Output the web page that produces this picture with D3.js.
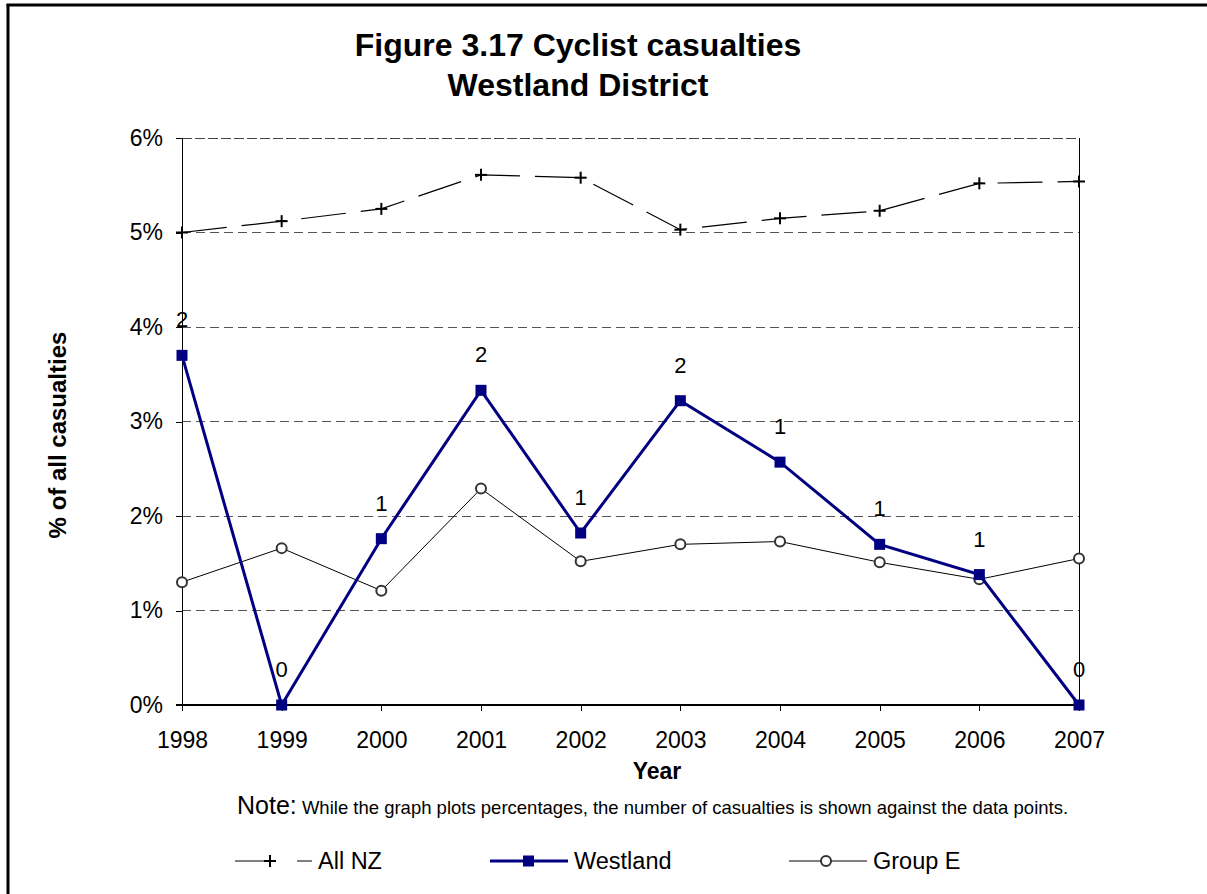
<!DOCTYPE html>
<html><head><meta charset="utf-8">
<script src="https://cdn.jsdelivr.net/npm/d3@7"></script>
<style>body{margin:0;background:#fff;} svg{display:block;font-family:Arial,"Liberation Sans",sans-serif;}</style>
</head><body>
<script>
const years = ["1998","1999","2000","2001","2002","2003","2004","2005","2006","2007"];
const allNZ = [5.00,5.12,5.25,5.61,5.58,5.03,5.15,5.23,5.52,5.54];
const westland = [3.70,0.00,1.76,3.33,1.82,3.22,2.57,1.70,1.38,0.00];
const groupE = [1.30,1.66,1.21,2.29,1.52,1.70,1.73,1.51,1.33,1.55];
const westlandCounts = [2,0,1,2,1,2,1,1,1,0];
const yTicks = [0,1,2,3,4,5,6];
const titleLines = ["Figure 3.17 Cyclist casualties","Westland District"];

(function(){
const W=1207,H=894;
const svg=d3.select("body").append("svg").attr("width",W).attr("height",H);
const pL=182,pR=1079,pT=138,pB=705;
const x=d3.scalePoint().domain(years).range([pL,pR]);
const y=d3.scaleLinear().domain([0,6]).range([pB,pT]);

// outer border
svg.append("line").attr("x1",8).attr("x2",8).attr("y1",4).attr("y2",H).attr("stroke","#000").attr("stroke-width",3);
svg.append("line").attr("x1",6.5).attr("x2",W).attr("y1",5).attr("y2",5).attr("stroke","#000").attr("stroke-width",3);

// title
svg.append("g").selectAll("text").data(titleLines).join("text")
  .attr("x",578).attr("y",(d,i)=>56+i*40).attr("text-anchor","middle")
  .attr("font-size",32).attr("font-weight","bold").text(d=>d);

// gridlines
svg.append("g").attr("shape-rendering","crispEdges").selectAll("line").data(yTicks.filter(d=>d>0)).join("line")
  .attr("x1",pL).attr("x2",pR).attr("y1",d=>y(d)).attr("y2",d=>y(d))
  .attr("stroke",d=>d===6?"#444":"#555").attr("stroke-width",1).attr("stroke-dasharray",d=>d===6?"10,3":"9,5");

// right border of plot
svg.append("line").attr("shape-rendering","crispEdges").attr("x1",pR).attr("x2",pR).attr("y1",pT).attr("y2",pB).attr("stroke","#000").attr("stroke-width",1);

// y axis
const ya=svg.append("g").attr("transform",`translate(${pL},0)`)
  .call(d3.axisLeft(y).tickValues(yTicks).tickFormat(d=>d+"%").tickSize(6).tickPadding(13));
ya.select(".domain").attr("stroke","#000").attr("shape-rendering","crispEdges");
ya.selectAll(".tick line").attr("shape-rendering","crispEdges");
ya.selectAll("text").attr("font-size",23).attr("font-family","Arial,'Liberation Sans',sans-serif").attr("fill","#000");

// x axis
const xa=svg.append("g").attr("transform",`translate(0,${pB})`)
  .call(d3.axisBottom(x).tickSize(6).tickSizeOuter(0).tickPadding(21));
xa.select(".domain").attr("stroke","#000").attr("stroke-width",2).attr("d",`M${pL-6},0H${pR}`);
xa.selectAll(".tick line").attr("shape-rendering","crispEdges");
xa.selectAll("text").attr("font-size",23).attr("font-family","Arial,'Liberation Sans',sans-serif").attr("fill","#000");

// axis titles
svg.append("text").attr("x",657).attr("y",779).attr("text-anchor","middle")
  .attr("font-size",23).attr("font-weight","bold").text("Year");
svg.append("text").attr("transform","translate(66,435) rotate(-90)").attr("text-anchor","middle")
  .attr("font-size",24).attr("font-weight","bold").text("% of all casualties");

const line=d3.line().x((d,i)=>x(years[i])).y(d=>y(d));

// Group E
svg.append("path").datum(groupE).attr("d",line).attr("fill","none").attr("stroke","#000").attr("stroke-width",1);
svg.append("g").selectAll("circle").data(groupE).join("circle")
  .attr("cx",(d,i)=>x(years[i])).attr("cy",d=>y(d)).attr("r",5)
  .attr("fill","#fff").attr("stroke","#333").attr("stroke-width",2);

// All NZ
svg.append("path").datum(allNZ).attr("d",line).attr("fill","none").attr("stroke","#000").attr("stroke-width",1.2).attr("stroke-dasharray","45,15");
const plus=svg.append("g").selectAll("g").data(allNZ).join("g")
  .attr("transform",(d,i)=>`translate(${x(years[i])},${y(d)})`);
plus.append("line").attr("x1",-6).attr("x2",6).attr("stroke","#000").attr("stroke-width",2);
plus.append("line").attr("y1",-6).attr("y2",6).attr("stroke","#000").attr("stroke-width",2);

// Westland
svg.append("path").datum(westland).attr("d",line).attr("fill","none").attr("stroke","#000080").attr("stroke-width",3);
svg.append("g").selectAll("rect").data(westland).join("rect")
  .attr("x",(d,i)=>x(years[i])-5.5).attr("y",d=>y(d)-5.5).attr("width",11).attr("height",11).attr("fill","#000080");
svg.append("g").selectAll("text").data(westland).join("text")
  .attr("x",(d,i)=>x(years[i])).attr("y",d=>y(d)-28).attr("text-anchor","middle")
  .attr("font-size",22).text((d,i)=>westlandCounts[i]);

// note
const note=svg.append("text").attr("x",237).attr("y",814);
note.append("tspan").attr("font-size",25).text("Note:");
note.append("tspan").attr("font-size",18.5).text(" While the graph plots percentages, the number of casualties is shown against the data points.");

// legend
const ly=861;
const lg=svg.append("g");
lg.append("line").attr("x1",235).attr("x2",312).attr("y1",ly).attr("y2",ly).attr("stroke","#000").attr("stroke-width",1.2).attr("stroke-dasharray","32,30");
lg.append("line").attr("x1",264).attr("x2",276).attr("y1",ly).attr("y2",ly).attr("stroke","#000").attr("stroke-width",2);
lg.append("line").attr("x1",270).attr("x2",270).attr("y1",ly-6).attr("y2",ly+6).attr("stroke","#000").attr("stroke-width",2);
lg.append("text").attr("x",318).attr("y",ly+8).attr("font-size",23.5).text("All NZ");
lg.append("line").attr("x1",490).attr("x2",568).attr("y1",ly).attr("y2",ly).attr("stroke","#000080").attr("stroke-width",3);
lg.append("rect").attr("x",523).attr("y",ly-5.5).attr("width",11).attr("height",11).attr("fill","#000080");
lg.append("text").attr("x",574).attr("y",ly+8).attr("font-size",23.5).text("Westland");
lg.append("line").attr("x1",789).attr("x2",867).attr("y1",ly).attr("y2",ly).attr("stroke","#000").attr("stroke-width",1);
lg.append("circle").attr("cx",826).attr("cy",ly).attr("r",5).attr("fill","#fff").attr("stroke","#333").attr("stroke-width",2);
lg.append("text").attr("x",873).attr("y",ly+8).attr("font-size",23.5).text("Group E");
})();
</script>
</body></html>
